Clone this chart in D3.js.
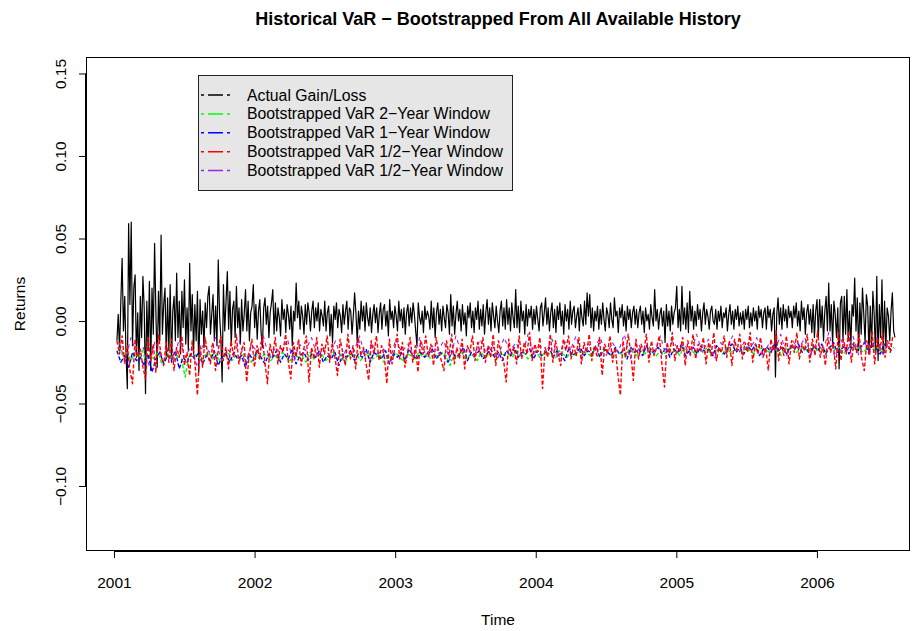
<!DOCTYPE html>
<html>
<head>
<meta charset="utf-8">
<script src="https://cdnjs.cloudflare.com/ajax/libs/d3/7.8.5/d3.min.js"></script>
<style>
  html, body { margin: 0; padding: 0; background: #ffffff; }
  svg { display: block; }
  text { font-family: "Liberation Sans", Arial, Helvetica, sans-serif; fill: #000; }
</style>
</head>
<body>
<svg id="chart" width="917" height="631"></svg>
<script>
// ---------------- DATA ----------------
const titleText = "Historical VaR \u2212 Bootstrapped From All Available History";
const xLabel = "Time";
const yLabel = "Returns";
const xTicks = [2001, 2002, 2003, 2004, 2005, 2006];
const yTicks = [-0.10, -0.05, 0.00, 0.05, 0.10, 0.15];
const xDomain = [2000.801, 2006.662];
const yDomain = [-0.1394, 0.16];

const legendLabels = [
  "Actual Gain/Loss",
  "Bootstrapped VaR 2\u2212Year Window",
  "Bootstrapped VaR 1\u2212Year Window",
  "Bootstrapped VaR 1/2\u2212Year Window",
  "Bootstrapped VaR 1/2\u2212Year Window"
];
const legendColors = ["#000000", "#00FF00", "#0000FF", "#FF0000", "#A020F0"];

// time span (fractional years) covered by each series, observations evenly spaced
const actualSpan = [2001.021, 2006.555];
const var2ySpan = [2001.036, 2006.548];
const var1ySpan = [2001.021, 2006.533];
const varHalfSpan = [2001.021, 2006.540];
const varHalfBSpan = [2001.036, 2006.555];

// Actual Gain/Loss (returns)
const actual = [
-.012,.004,-.018,.012,.038,-.006,.015,-.02,-.041,.059,.01,.06,-.015,.02,.028,-.022,.005,-.03,.015,-.01,
.027,.008,-.044,.012,-.018,.024,-.03,.02,-.008,.047,.005,-.028,.018,-.012,.052,-.008,.01,.02,-.022,.014,
-.018,.022,-.025,.006,.015,-.012,.029,-.01,.012,-.02,.018,-.004,.025,-.014,.008,-.018,.035,-.006,.016,-.02,
.01,-.012,.018,-.031,.013,-.008,.006,-.016,.011,-.004,.015,.021,-.008,.004,.016,-.012,.009,-.015,.037,.004,
-.01,-.037,.022,-.006,.012,.03,-.005,.018,-.015,.007,.012,-.01,.021,-.004,.008,-.014,.013,-.006,.004,.019,
-.006,.012,-.012,.005,.009,.022,-.004,.01,-.011,.006,.013,-.007,-.016,.008,.014,-.002,.009,-.01,.005,.011,
.019,-.008,.011,-.006,.008,.002,-.009,.013,.001,.007,-.007,.01,.004,-.005,.009,-.015,.006,.0,.023,.002,
.012,-.005,.009,.003,-.008,.01,-.002,.011,.005,-.006,.006,.012,-.004,.008,.0,.011,-.006,.007,.003,-.003,
.012,-.006,.005,.009,-.009,.004,-.013,.009,.001,.011,-.004,.007,.003,-.007,.01,-.002,.006,.012,-.005,.008,
.006,-.008,.003,.017,.005,-.013,.006,-.005,.012,.0,.009,-.006,.011,.002,-.003,.008,-.007,.004,.01,-.001,
.008,-.007,.004,.011,-.005,.007,.01,-.003,.006,-.009,.013,.001,.006,-.004,.009,.003,-.006,.012,.0,.007,
-.004,.008,-.008,.005,.01,-.003,.008,-.001,.011,.004,-.006,-.015,.011,.002,-.002,.006,-.007,.009,.001,.006,
.003,-.005,.012,-.004,.008,-.01,.005,.011,-.002,.007,-.006,.009,.002,-.004,.01,.005,-.008,.016,-.003,.009,
-.008,.004,.012,.0,.007,-.006,.01,-.002,.005,-.009,.009,.002,.011,-.004,.006,-.007,.008,.001,.012,-.005,
.007,-.003,.01,-.008,.005,.013,-.002,.008,-.006,.011,.003,-.004,.009,.0,-.007,.006,.012,-.003,.008,-.005,
.013,-.002,.008,-.006,.011,.002,-.004,.019,-.004,.009,-.007,.012,.0,.006,-.008,.01,-.003,.007,.002,.009,
-.005,.007,-.002,.009,.001,-.006,.008,.011,-.003,.005,.014,-.002,.008,-.006,.005,.011,-.004,.007,-.007,.009,
.001,.011,-.003,.006,-.008,.01,.0,.007,-.005,.012,-.002,.006,.009,-.004,.003,.008,-.006,.01,.002,-.003,
.012,-.002,.017,.003,.016,-.004,.008,-.006,.006,.0,.009,-.005,.007,-.002,.011,.001,-.006,.008,.004,-.004,
.011,.001,-.004,.014,.003,.006,-.007,.008,.002,.01,-.003,.006,-.006,.009,.001,.007,-.004,.005,.009,-.002,
.007,-.004,.005,.009,-.002,.006,-.007,.008,.0,.004,-.005,.01,.002,-.003,.019,.0,.007,-.005,.004,.008,
-.003,.006,-.013,.01,-.003,.006,-.006,.009,-.002,.005,.008,.021,-.004,.007,-.006,.021,-.002,.008,-.005,.011,
-.007,.018,.0,.009,-.005,.006,-.003,.01,.001,.007,-.006,.005,.011,-.002,.007,.003,-.005,.006,.009,.0,
-.002,.007,-.005,.006,.0,.009,-.004,.005,.002,.008,-.006,.004,.01,-.002,.006,-.005,.007,.001,.009,-.003,
.005,-.002,.006,-.005,.007,.001,.009,-.004,.005,-.003,.008,.0,.006,-.005,.009,.002,.007,-.004,.005,.008,
-.005,.009,.002,.007,-.006,.004,.008,-.034,.004,.014,-.002,.008,-.005,.01,.0,.007,-.004,.009,.002,.006,
-.004,.009,.002,.011,-.003,.006,-.006,.012,.001,.008,-.008,.005,.01,-.002,.007,-.007,.01,-.01,.006,.013,
-.01,.013,-.004,.009,-.012,.006,.015,-.006,.023,-.006,.01,-.014,.012,.004,-.01,.008,-.029,.011,.015,-.012,
.015,-.008,.019,-.012,.006,-.016,.01,.003,.026,-.006,.014,-.018,.011,-.008,.02,.004,-.013,.016,.009,-.02,
.009,-.016,.018,.004,-.02,.027,-.024,.01,-.01,.025,-.02,.012,-.016,.008,.003,-.012,.006,.017,-.006,-.01
];

// Bootstrapped VaR, 2-year window (green)
const var2y = [
-.016,-.021,-.019,-.024,-.02,-.022,-.018,-.025,-.021,-.023,-.019,-.026,-.022,-.02,-.024,-.021,-.023,-.034,-.02,-.022,
-.02,-.024,-.021,-.019,-.023,-.02,-.025,-.022,-.019,-.024,-.021,-.023,-.02,-.022,-.025,-.019,-.023,-.021,-.02,-.024,
-.021,-.023,-.019,-.022,-.024,-.02,-.022,-.021,-.025,-.019,-.023,-.021,-.02,-.024,-.022,-.019,-.023,-.02,-.025,-.021,
-.022,-.02,-.024,-.021,-.019,-.023,-.022,-.02,-.025,-.021,-.023,-.019,-.022,-.024,-.02,-.021,-.023,-.019,-.022,-.02,
-.023,-.02,-.022,-.019,-.021,-.027,-.02,-.022,-.019,-.023,-.021,-.02,-.024,-.019,-.022,-.02,-.021,-.023,-.019,-.021,
-.02,-.022,-.018,-.021,-.019,-.023,-.02,-.018,-.022,-.02,-.019,-.021,-.023,-.018,-.02,-.022,-.019,-.021,-.018,-.02,
-.019,-.021,-.018,-.022,-.02,-.017,-.021,-.019,-.018,-.02,-.022,-.017,-.019,-.021,-.018,-.02,-.017,-.019,-.021,-.018,
-.02,-.017,-.019,-.018,-.021,-.016,-.019,-.018,-.02,-.017,-.019,-.016,-.021,-.018,-.017,-.02,-.016,-.019,-.018,-.017,
-.019,-.016,-.018,-.02,-.015,-.018,-.017,-.019,-.016,-.018,-.021,-.016,-.018,-.015,-.019,-.017,-.016,-.019,-.015,-.018,
-.016,-.019,-.017,-.015,-.018,-.016,-.02,-.017,-.015,-.018,-.016,-.019,-.017,-.015,-.018,-.016,-.019,-.015,-.017,-.016
];

// Bootstrapped VaR, 1-year window (blue)
const var1y = [
-.018,-.025,-.021,-.028,-.019,-.024,-.022,-.027,-.02,-.031,-.023,-.019,-.026,-.021,-.024,-.018,-.029,-.022,-.025,-.02,
-.023,-.019,-.026,-.021,-.024,-.018,-.027,-.022,-.02,-.025,-.019,-.023,-.021,-.028,-.02,-.024,-.018,-.022,-.026,-.02,
-.022,-.018,-.025,-.02,-.023,-.017,-.026,-.021,-.019,-.024,-.02,-.022,-.018,-.025,-.021,-.023,-.019,-.027,-.02,-.022,
-.018,-.024,-.02,-.022,-.017,-.025,-.019,-.021,-.023,-.018,-.026,-.02,-.022,-.019,-.024,-.017,-.021,-.023,-.019,-.022,
-.02,-.017,-.023,-.019,-.021,-.025,-.018,-.022,-.02,-.016,-.024,-.019,-.021,-.018,-.023,-.02,-.017,-.022,-.019,-.024,
-.018,-.021,-.016,-.022,-.019,-.02,-.017,-.023,-.018,-.021,-.019,-.016,-.022,-.018,-.02,-.024,-.017,-.021,-.019,-.016,
-.021,-.018,-.02,-.015,-.022,-.017,-.019,-.021,-.016,-.02,-.018,-.023,-.016,-.019,-.017,-.021,-.015,-.02,-.018,-.016,
-.02,-.016,-.022,-.017,-.019,-.014,-.021,-.018,-.016,-.02,-.015,-.019,-.017,-.021,-.015,-.018,-.02,-.016,-.014,-.019,
-.016,-.02,-.015,-.018,-.014,-.021,-.017,-.016,-.019,-.013,-.018,-.016,-.02,-.015,-.017,-.014,-.019,-.016,-.021,-.015,
-.018,-.014,-.02,-.016,-.013,-.019,-.017,-.015,-.02,-.014,-.018,-.016,-.013,-.019,-.015,-.017,-.02,-.014,-.016,-.018
];

// Bootstrapped VaR, 1/2-year window (red)
const varHalf = [
-.012,-.02,-.009,-.026,-.015,-.03,-.038,-.011,-.022,-.017,-.028,-.035,-.01,-.024,-.014,-.031,-.008,-.021,-.027,-.013,
-.025,-.011,-.03,-.016,-.022,-.009,-.027,-.019,-.033,-.012,-.024,-.045,-.015,-.028,-.01,-.021,-.026,-.013,-.03,-.018,
-.009,-.024,-.016,-.029,-.012,-.022,-.008,-.026,-.018,-.013,-.037,-.02,-.011,-.028,-.015,-.023,-.009,-.025,-.038,-.014,
-.021,-.01,-.026,-.015,-.019,-.008,-.024,-.035,-.013,-.022,-.011,-.027,-.017,-.009,-.037,-.016,-.023,-.01,-.028,-.014,
-.02,-.009,-.025,-.013,-.022,-.033,-.011,-.019,-.027,-.008,-.023,-.015,-.029,-.01,-.021,-.016,-.026,-.036,-.012,-.02,
-.009,-.024,-.015,-.021,-.038,-.011,-.026,-.017,-.008,-.023,-.013,-.028,-.019,-.01,-.025,-.015,-.031,-.012,-.02,-.009,
-.022,-.014,-.027,-.01,-.019,-.024,-.03,-.012,-.021,-.008,-.026,-.016,-.023,-.011,-.029,-.015,-.019,-.009,-.024,-.013,
-.02,-.01,-.025,-.015,-.022,-.008,-.027,-.012,-.019,-.024,-.037,-.011,-.021,-.016,-.026,-.009,-.023,-.013,-.02,-.007,
-.024,-.014,-.019,-.01,-.041,-.016,-.022,-.008,-.025,-.012,-.02,-.027,-.011,-.018,-.009,-.023,-.015,-.021,-.01,-.026,
-.013,-.019,-.008,-.024,-.015,-.021,-.01,-.033,-.014,-.02,-.009,-.025,-.016,-.032,-.045,-.012,-.022,-.008,-.019,-.036,
-.011,-.023,-.014,-.019,-.008,-.025,-.012,-.021,-.016,-.009,-.026,-.04,-.013,-.02,-.007,-.024,-.015,-.019,-.01,-.027,
-.012,-.02,-.008,-.023,-.014,-.018,-.01,-.026,-.013,-.021,-.007,-.024,-.016,-.019,-.009,-.022,-.012,-.027,-.011,-.018,
-.008,-.023,-.013,-.019,-.007,-.025,-.014,-.02,-.01,-.022,-.016,-.03,-.011,-.018,-.006,-.024,-.013,-.021,-.009,-.026,
-.012,-.019,-.007,-.023,-.014,-.018,-.008,-.025,-.011,-.021,-.006,-.022,-.015,-.027,-.01,-.019,-.013,-.029,-.007,-.024,
-.011,-.02,-.006,-.025,-.013,-.019,-.008,-.023,-.03,-.012,-.021,-.006,-.026,-.01,-.018,-.007,-.022,-.012,-.019,-.009
];

// Bootstrapped VaR, 1/2-year window (purple)
const varHalfB = [
-.013,-.024,-.01,-.021,-.016,-.027,-.012,-.02,-.018,-.025,
-.011,-.022,-.015,-.028,-.013,-.019,-.01,-.024,-.017,-.021,
-.012,-.026,-.014,-.019,-.009,-.023,-.016,-.02,-.011,-.025,
-.014,-.018,-.01,-.022,-.016,-.021,-.012,-.024,-.015,-.019,
-.009,-.023,-.013,-.02,-.017,-.025,-.011,-.019,-.014,-.022,
-.01,-.021,-.015,-.018,-.012,-.024,-.009,-.02,-.016,-.022,
-.011,-.019,-.014,-.023,-.01,-.018,-.013,-.021,-.008,-.02,
-.015,-.019,-.011,-.023,-.012,-.018,-.009,-.022,-.014,-.017,
-.01,-.021,-.013,-.019,-.008,-.023,-.012,-.018,-.015,-.02,
-.009,-.022,-.012,-.017,-.014,-.021,-.008,-.019,-.011,-.023,
-.013,-.018,-.009,-.02,-.012,-.016,-.01,-.022,-.014,-.019,
-.008,-.021,-.012,-.017,-.01,-.02,-.013,-.018,-.007,-.022,
-.011,-.019,-.009,-.021,-.012,-.016,-.01,-.02,-.013,-.017
];

// ---------------- LAYOUT ----------------
const W = 917, H = 631;
const box = { left: 86, right: 910, top: 57, bottom: 551 };
const font = 15.5;

const svg = d3.select("#chart");

const x = d3.scaleLinear().domain(xDomain).range([box.left, box.right]);
const y = d3.scaleLinear().domain(yDomain).range([box.bottom, box.top]);

function withTime(values, span) {
  const n = values.length;
  return values.map((v, i) => ({ t: span[0] + (span[1] - span[0]) * i / (n - 1), v }));
}

svg.append("defs").append("clipPath").attr("id", "plotclip")
  .append("rect")
  .attr("x", box.left).attr("y", box.top)
  .attr("width", box.right - box.left).attr("height", box.bottom - box.top);

const line = d3.line().x(d => x(d.t)).y(d => y(d.v));
const plotG = svg.append("g").attr("clip-path", "url(#plotclip)");

const seriesDefs = [
  { values: actual, span: actualSpan, color: legendColors[0], dash: null, w: 1.2 },
  { values: var2y, span: var2ySpan, color: legendColors[1], dash: "4,2", w: 1.4 },
  { values: var1y, span: var1ySpan, color: legendColors[2], dash: "4,2", w: 1.4 },
  { values: varHalfB, span: varHalfBSpan, color: legendColors[4], dash: "4,4", w: 1.1 },
  { values: varHalf, span: varHalfSpan, color: legendColors[3], dash: "4,2", w: 1.4 }
];

seriesDefs.forEach(s => {
  plotG.append("path")
    .datum(withTime(s.values, s.span))
    .attr("d", line)
    .attr("fill", "none")
    .attr("stroke", s.color)
    .attr("stroke-width", s.w)
    .attr("stroke-linejoin", "round")
    .attr("stroke-dasharray", s.dash);
});

// Plot box
svg.append("rect")
  .attr("x", box.left + 0.5).attr("y", box.top + 0.5)
  .attr("width", box.right - box.left - 1).attr("height", box.bottom - box.top - 1)
  .attr("fill", "none").attr("stroke", "#000").attr("stroke-width", 1);

// X axis
const xAxis = d3.axisBottom(x).tickValues(xTicks).tickFormat(d3.format("d"))
  .tickSizeInner(7).tickSizeOuter(0).tickPadding(19);
const gx = svg.append("g").attr("transform", `translate(0,${box.bottom})`).call(xAxis);
gx.select(".domain").remove();
gx.append("line")
  .attr("x1", x(xTicks[0])).attr("x2", x(xTicks[xTicks.length - 1]))
  .attr("y1", 0.5).attr("y2", 0.5).attr("stroke", "#000");
gx.selectAll(".tick line").attr("stroke", "#000");
gx.selectAll(".tick text").attr("font-size", font).attr("font-family", "Liberation Sans, Arial, sans-serif").attr("fill", "#000");

// Y axis
const minus = s => s.replace("-", "\u2212");
const yAxis = d3.axisLeft(y).tickValues(yTicks).tickFormat(d => minus(d3.format(".2f")(d)))
  .tickSizeInner(7).tickSizeOuter(0).tickPadding(6);
const gy = svg.append("g").attr("transform", `translate(${box.left},0)`).call(yAxis);
gy.select(".domain").remove();
gy.append("line")
  .attr("x1", -0.5).attr("x2", -0.5)
  .attr("y1", y(yTicks[0])).attr("y2", y(yTicks[yTicks.length - 1])).attr("stroke", "#000");
gy.selectAll(".tick line").attr("stroke", "#000");
gy.selectAll(".tick text")
  .attr("font-size", font).attr("font-family", "Liberation Sans, Arial, sans-serif").attr("fill", "#000")
  .attr("text-anchor", "middle").attr("dy", null).attr("x", null)
  .attr("transform", "translate(-20,0) rotate(-90)")
  .attr("y", 0);

// Titles
svg.append("text")
  .attr("x", (box.left + box.right) / 2).attr("y", 25)
  .attr("text-anchor", "middle").attr("font-weight", "bold").attr("font-size", 18)
  .text(titleText);
svg.append("text")
  .attr("x", (box.left + box.right) / 2).attr("y", 625)
  .attr("text-anchor", "middle").attr("font-size", font)
  .text(xLabel);
svg.append("text")
  .attr("transform", `translate(25,${(box.top + box.bottom) / 2}) rotate(-90)`)
  .attr("text-anchor", "middle").attr("font-size", font)
  .text(yLabel);

// Legend
const lg = { x: 198, y: 75, w: 314, h: 115, row0: 95, rowStep: 18.9 };
const legG = svg.append("g");
legG.append("rect")
  .attr("x", lg.x + 0.5).attr("y", lg.y + 0.5).attr("width", lg.w).attr("height", lg.h)
  .attr("fill", "#e6e6e6").attr("stroke", "#222").attr("stroke-width", 1);
legendLabels.forEach((lab, i) => {
  const cy = lg.row0 + i * lg.rowStep;
  legG.append("line")
    .attr("x1", 201).attr("x2", 230).attr("y1", cy).attr("y2", cy)
    .attr("stroke", legendColors[i]).attr("stroke-width", 1.5)
    .attr("stroke-dasharray", "3,4,15,4,3");
  legG.append("text")
    .attr("x", 247).attr("y", cy).attr("dy", "0.35em")
    .attr("font-size", 15.8)
    .text(lab);
});
</script>
</body>
</html>
